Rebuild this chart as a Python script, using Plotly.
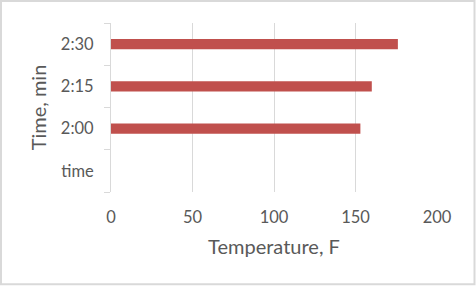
import plotly.graph_objects as go

categories = ["time", "2:00", "2:15", "2:30"]
temperatures = [None, 153, 160, 176]
x_ticks = [0, 50, 100, 150, 200]

W, H = 476, 286
L, R, T, B = 111, 39, 23, 94

fig = go.Figure()
fig.add_trace(go.Bar(
    y=categories, x=temperatures, orientation="h",
    marker=dict(color="#c0504d", line=dict(width=0)),
    width=0.24,
))

font_family = "Lato"
fig.update_layout(
    width=W, height=H,
    margin=dict(l=L, r=R, t=T, b=B, pad=0),
    paper_bgcolor="white", plot_bgcolor="white",
    showlegend=False,
    font=dict(family=font_family, color="#595959", size=16),
    xaxis=dict(
        range=[0, 200], tickvals=x_ticks, ticktext=[str(v) for v in x_ticks],
        showgrid=True, gridcolor="#d9d9d9", gridwidth=1,
        zeroline=False, showline=False, ticks="",
        ticklabelstandoff=13,
        tickfont=dict(size=16.5, color="#595959"),
        title=dict(text="Temperature, F", font=dict(size=20, color="#595959"), standoff=14),
    ),
    yaxis=dict(
        type="category", categoryorder="array", categoryarray=categories,
        range=[-0.5, 3.5],
        showgrid=False, zeroline=False,
        showline=True, linecolor="#d9d9d9", linewidth=1,
        ticks="outside", ticklen=6, tickcolor="#d9d9d9", tickson="boundaries",
        ticklabelstandoff=13,
        tickfont=dict(size=16.5, color="#595959"),
        title=dict(text="Time, min", font=dict(size=20, color="#595959"), standoff=8),
    ),
)

pw = W - L - R
ph = H - T - B
def px2x(p):
    return (p - L) / pw
def py2y(p):
    return 1 - (p - T) / ph

fig.add_shape(type="rect", xref="paper", yref="paper",
              x0=px2x(1), x1=px2x(474.5), y0=py2y(1), y1=py2y(284.3),
              line=dict(color="#d9d9d9", width=2), fillcolor="rgba(0,0,0,0)", layer="below")

fig.write_html("out.html")
